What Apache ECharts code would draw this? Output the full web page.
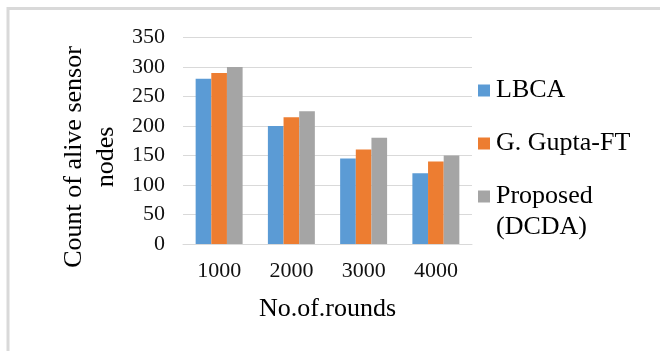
<!DOCTYPE html>
<html>
<head>
<meta charset="utf-8">
<script src="https://cdn.jsdelivr.net/npm/echarts@6/dist/echarts.min.js"></script>
<style>
  html, body { margin: 0; padding: 0; background: #ffffff; }
  #chart { width: 660px; height: 351px; }
</style>
</head>
<body>
<div id="chart"></div>
<script>
const categories = ['1000', '2000', '3000', '4000'];
const seriesNames = ['LBCA', 'G. Gupta-FT', 'Proposed (DCDA)'];
const lbca = [280, 200, 145, 120];
const gupta = [290, 215, 160, 140];
const proposed = [300, 225, 180, 150];
const yTicks = [0, 50, 100, 150, 200, 250, 300, 350];
const colors = ['#5B9BD5', '#ED7D31', '#A5A5A5'];

const FONT = "'Liberation Serif', 'Times New Roman', serif";
const chart = echarts.init(document.getElementById('chart'), null, { renderer: 'canvas' });

function legendFor(name, top, formatter) {
  return {
    data: [name],
    orient: 'vertical',
    left: 478,
    top: top,
    itemWidth: 12,
    itemHeight: 12,
    icon: 'rect',
    selectedMode: false,
    padding: 0,
    formatter: formatter,
    textStyle: { fontFamily: FONT, fontSize: 26, color: '#000', lineHeight: 31, padding: [0, 0, 0, 1] }
  };
}

chart.setOption({
  backgroundColor: '#ffffff',
  animation: false,
  color: colors,
  grid: { left: 183, right: 188, top: 37.5, bottom: 107, containLabel: false },
  legend: [
    legendFor(seriesNames[0], 75),
    legendFor(seriesNames[1], 128),
    legendFor(seriesNames[2], 150, function () { return '\nProposed\n(DCDA)'; })
  ],
  xAxis: {
    type: 'category',
    data: categories,
    axisTick: { show: false },
    axisLine: { show: true, lineStyle: { color: '#d9d9d9', width: 1 } },
    axisLabel: { fontFamily: FONT, fontSize: 22, color: '#111', margin: 16 },
    name: 'No.of.rounds',
    nameLocation: 'middle',
    nameGap: 52,
    nameTextStyle: { fontFamily: FONT, fontSize: 26, color: '#000' }
  },
  yAxis: {
    type: 'value',
    min: yTicks[0],
    max: yTicks[yTicks.length - 1],
    interval: yTicks[1] - yTicks[0],
    axisLine: { show: false },
    axisTick: { show: false },
    splitLine: { show: true, lineStyle: { color: '#d9d9d9', width: 1 } },
    axisLabel: { fontFamily: FONT, fontSize: 22, color: '#111', margin: 18 }
  },
  series: [
    { name: seriesNames[0], type: 'bar', data: lbca, barGap: '0%', barCategoryGap: '35%' },
    { name: seriesNames[1], type: 'bar', data: gupta, barGap: '0%', barCategoryGap: '35%' },
    { name: seriesNames[2], type: 'bar', data: proposed, barGap: '0%', barCategoryGap: '35%' }
  ],
  graphic: [
    {
      type: 'text',
      x: 90,
      y: 157,
      rotation: Math.PI / 2,
      style: {
        text: 'Count of alive sensor\nnodes',
        fontFamily: FONT,
        fontSize: 26,
        lineHeight: 32,
        fill: '#000',
        align: 'center',
        verticalAlign: 'middle'
      }
    },
    {
      type: 'polyline',
      shape: { points: [[8, 351], [8, 8.5], [660, 8.5]] },
      style: { stroke: '#d9d9d9', lineWidth: 3, fill: null },
      silent: true
    }
  ]
});
</script>
</body>
</html>
